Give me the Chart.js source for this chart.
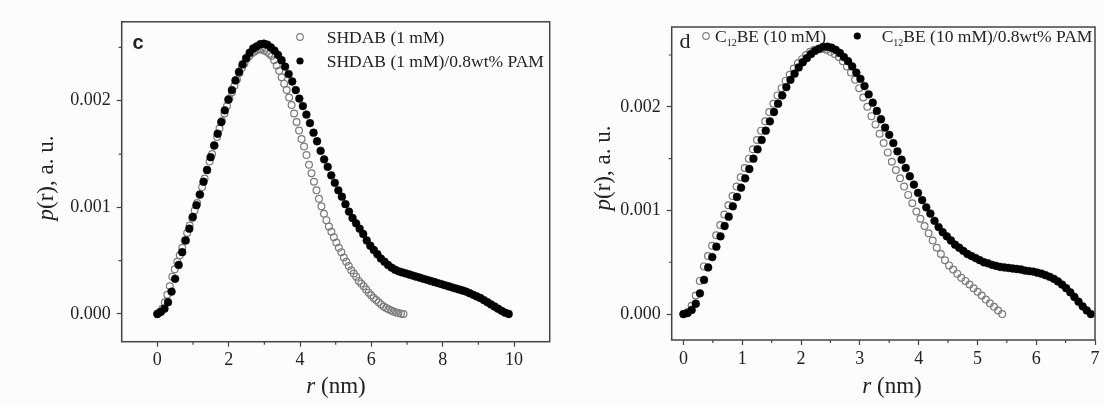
<!DOCTYPE html>
<html>
<head>
<meta charset="utf-8">
<script src="https://cdn.jsdelivr.net/npm/chart.js@4.4.0/dist/chart.umd.min.js"></script>
<style>
  html, body { margin: 0; padding: 0; background: #fcfcfc; }
  #wrap { position: relative; width: 1104px; height: 406px; overflow: hidden; }
  canvas { position: absolute; top: 0; }
</style>
</head>
<body>
<div id="wrap">
  <canvas id="panelC" width="560" height="406" style="left:0;width:560px;height:406px"></canvas>
  <canvas id="panelD" width="544" height="406" style="left:560px;width:544px;height:406px"></canvas>
</div>
<script>
// p(r) values are in units of 10^-3 a.u., sampled on an even r grid (nm)

// panel c
const shdabStep = 0.0697;
const shdab = [0,0.02,0.05,0.11,0.18,0.26,0.35,0.42,0.49,0.55,
  0.62,0.69,0.76,0.83,0.90,0.97,1.04,1.12,1.19,1.27,
  1.35,1.43,1.50,1.58,1.66,1.74,1.81,1.88,1.95,2.02,
  2.08,2.14,2.20,2.26,2.31,2.35,2.39,2.42,2.445,2.46,
  2.475,2.48,2.48,2.47,2.46,2.44,2.42,2.38,2.33,2.28,
  2.22,2.16,2.10,2.03,1.96,1.88,1.80,1.72,1.64,1.57,
  1.49,1.40,1.32,1.24,1.16,1.08,1.01,0.94,0.88,0.82,
  0.77,0.72,0.67,0.62,0.58,0.53,0.49,0.45,0.41,0.38,
  0.35,0.31,0.285,0.26,0.23,0.20,0.175,0.15,0.13,0.11,
  0.09,0.07,0.055,0.045,0.033,0.023,0.015,0.008,0.003,0];

const shdabPamStep = 0.0995;
const shdabPam = [0,0.02,0.05,0.11,0.21,0.33,0.46,0.58,0.69,0.80,
  0.91,1.02,1.12,1.24,1.35,1.47,1.58,1.69,1.80,1.91,
  2.01,2.10,2.19,2.27,2.34,2.40,2.45,2.49,2.51,2.53,
  2.535,2.525,2.50,2.47,2.43,2.38,2.32,2.25,2.18,2.10,
  2.02,1.95,1.87,1.79,1.70,1.62,1.53,1.45,1.38,1.30,
  1.23,1.16,1.10,1.03,0.96,0.90,0.85,0.80,0.75,0.69,
  0.64,0.60,0.56,0.52,0.49,0.46,0.435,0.415,0.40,0.39,
  0.38,0.37,0.36,0.35,0.34,0.33,0.32,0.31,0.30,0.29,
  0.28,0.27,0.26,0.25,0.24,0.23,0.22,0.21,0.195,0.18,
  0.165,0.15,0.13,0.11,0.09,0.07,0.05,0.03,0.012,0];

const xTicksC = [0, 2, 4, 6, 8, 10];
const xMinorC = [1, 3, 5, 7, 9];

// panel d
const c12beStep = 0.0695;
const c12be = [0,0.02,0.08,0.18,0.32,0.46,0.56,0.66,0.76,0.86,
  0.96,1.05,1.14,1.23,1.32,1.41,1.50,1.59,1.68,1.77,
  1.86,1.95,2.03,2.11,2.18,2.25,2.31,2.37,2.42,2.46,
  2.50,2.53,2.55,2.56,2.56,2.55,2.53,2.51,2.48,2.44,
  2.39,2.33,2.26,2.18,2.09,2.00,1.91,1.83,1.74,1.65,
  1.56,1.47,1.39,1.31,1.23,1.15,1.07,0.99,0.92,0.85,
  0.78,0.71,0.64,0.58,0.52,0.47,0.43,0.39,0.35,0.32,
  0.285,0.25,0.215,0.18,0.14,0.105,0.07,0.035,0];

const c12bePamStep = 0.07;
const c12bePam = [0,0.01,0.04,0.10,0.20,0.33,0.45,0.55,0.65,0.75,
  0.85,0.94,1.04,1.13,1.22,1.31,1.40,1.50,1.59,1.68,
  1.77,1.86,1.95,2.03,2.11,2.19,2.26,2.32,2.38,2.43,
  2.47,2.51,2.54,2.56,2.58,2.58,2.57,2.55,2.52,2.48,
  2.44,2.39,2.33,2.27,2.20,2.12,2.04,1.96,1.88,1.80,
  1.73,1.65,1.57,1.49,1.41,1.33,1.25,1.17,1.10,1.03,
  0.97,0.90,0.84,0.79,0.75,0.71,0.67,0.64,0.61,0.58,
  0.56,0.54,0.52,0.50,0.49,0.475,0.465,0.455,0.45,0.445,
  0.44,0.435,0.43,0.42,0.415,0.41,0.40,0.39,0.375,0.36,
  0.34,0.315,0.285,0.25,0.21,0.165,0.12,0.075,0.035,0];

const xTicksD = [0, 1, 2, 3, 4, 5, 6, 7];
const xMinorD = [0.5, 1.5, 2.5, 3.5, 4.5, 5.5, 6.5];

const yTicks = [0, 0.001, 0.002];
const yMinor = [0.0005, 0.0015, 0.0025];

const serif = "'Liberation Serif', 'Times New Roman', serif";
const ink = '#222';
const frame = '#444';

function toPoints(step, vals) {
    return vals.map((v, i) => ({ x: i * step, y: v / 1000 }));
}

// draw text made of runs with different fonts (italic, subscript)
function drawRuns(ctx, runs, x, y, align) {
    let total = 0;
    runs.forEach(r => { ctx.font = r.font; total += ctx.measureText(r.t).width; });
    let cx = align === 'center' ? x - total / 2 : x;
    ctx.textAlign = 'left';
    ctx.textBaseline = 'alphabetic';
    runs.forEach(r => {
        ctx.font = r.font;
        ctx.fillText(r.t, cx, y + (r.dy || 0));
        cx += ctx.measureText(r.t).width;
    });
}

function marker(ctx, x, y, filled) {
    ctx.beginPath();
    ctx.arc(x, y, filled ? 3.6 : 3.3, 0, Math.PI * 2);
    if (filled) { ctx.fillStyle = '#000'; ctx.fill(); }
    else { ctx.strokeStyle = '#808080'; ctx.lineWidth = 1.2; ctx.stroke(); }
}

function makePanel(id, p) {
    const deco = {
        id: 'deco',
        afterDraw(chart) {
            const ctx = chart.ctx;
            const a = chart.chartArea;
            const xs = chart.scales.x, ys = chart.scales.y;
            ctx.save();
            ctx.strokeStyle = frame;
            ctx.lineWidth = 1.5;
            ctx.strokeRect(a.left, a.top, a.right - a.left, a.bottom - a.top);

            ctx.lineWidth = 1.2;
            ctx.beginPath();
            p.xMinor.forEach(v => {
                const px = xs.getPixelForValue(v);
                ctx.moveTo(px, a.bottom); ctx.lineTo(px, a.bottom + 3);
            });
            yMinor.forEach(v => {
                const py = ys.getPixelForValue(v);
                ctx.moveTo(a.left, py); ctx.lineTo(a.left - 3, py);
            });
            ctx.stroke();

            ctx.fillStyle = ink;
            // panel letter
            ctx.font = p.letterFont;
            ctx.textAlign = 'center';
            ctx.textBaseline = 'middle';
            ctx.fillText(p.letter, p.letterPos[0], p.letterPos[1]);

            // legend
            p.legend.forEach(item => {
                marker(ctx, item.mx, item.my, item.filled);
                ctx.fillStyle = ink;
                drawRuns(ctx, item.runs, item.tx, item.my + 6, 'left');
            });

            // axis titles
            ctx.fillStyle = ink;
            drawRuns(ctx, [
                { t: 'r', font: 'italic 23px ' + serif },
                { t: ' (nm)', font: '23px ' + serif }
            ], p.xTitle[0], p.xTitle[1] + 8, 'center');

            ctx.translate(p.yTitle[0], p.yTitle[1]);
            ctx.rotate(-Math.PI / 2);
            drawRuns(ctx, [
                { t: 'p', font: 'italic 23px ' + serif },
                { t: '(r), a. u.', font: '23px ' + serif }
            ], 0, 8, 'center');
            ctx.restore();
        }
    };

    return new Chart(document.getElementById(id), {
        type: 'scatter',
        data: {
            datasets: [
                {
                    data: p.open, order: 1, pointStyle: 'circle', pointRadius: 3.4,
                    backgroundColor: 'rgba(0,0,0,0)', borderColor: '#7a7a7a', borderWidth: 1.2
                },
                {
                    data: p.filled, order: 0, pointStyle: 'circle', pointRadius: 3.9,
                    backgroundColor: '#000', borderColor: '#000', borderWidth: 0.5
                }
            ]
        },
        options: {
            responsive: false,
            animation: false,
            devicePixelRatio: 1,
            events: [],
            layout: { padding: { top: p.top, right: p.padRight, left: 0, bottom: 0 } },
            plugins: { legend: { display: false }, tooltip: { enabled: false } },
            scales: {
                x: {
                    type: 'linear', min: p.xMin, max: p.xMax,
                    afterBuildTicks: s => { s.ticks = p.xTicks.map(v => ({ value: v })); },
                    afterFit: s => { s.height = 406 - p.bottom; },
                    ticks: { color: ink, padding: 3, font: { family: serif, size: 18 } },
                    grid: { drawOnChartArea: false, drawTicks: true, tickLength: 5, tickColor: frame, tickWidth: 1.2 },
                    border: { display: false }
                },
                y: {
                    type: 'linear', min: p.yMin, max: p.yMax,
                    afterBuildTicks: s => { s.ticks = yTicks.map(v => ({ value: v })); },
                    afterFit: s => { s.width = p.left; },
                    ticks: { color: ink, padding: 6, font: { family: serif, size: 18 }, callback: v => v.toFixed(3) },
                    grid: { drawOnChartArea: false, drawTicks: true, tickLength: 5, tickColor: frame, tickWidth: 1.2 },
                    border: { display: false }
                }
            }
        },
        plugins: [deco]
    });
}

makePanel('panelC', {
    open: toPoints(shdabStep, shdab),
    filled: toPoints(shdabPamStep, shdabPam),
    xMin: -1, xMax: 11, yMin: -0.00026, yMax: 0.00274,
    xTicks: xTicksC, xMinor: xMinorC,
    left: 121.7, top: 21.8, padRight: 10.3, bottom: 341.7,
    letter: 'c', letterFont: "bold 20px 'Liberation Sans', Arial, sans-serif", letterPos: [138, 43],
    legend: [
        { mx: 300, my: 37, filled: false, tx: 326.7, runs: [{ t: 'SHDAB (1 mM)', font: '17.5px ' + serif }] },
        { mx: 300, my: 61, filled: true, tx: 326.7, runs: [{ t: 'SHDAB (1 mM)/0.8wt% PAM', font: '17.5px ' + serif }] }
    ],
    xTitle: [336, 385], yTitle: [45, 178]
});

makePanel('panelD', {
    open: toPoints(c12beStep, c12be),
    filled: toPoints(c12bePamStep, c12bePam),
    xMin: -0.2, xMax: 7, yMin: -0.00025, yMax: 0.00277,
    xTicks: xTicksD, xMinor: xMinorD,
    left: 111.7, top: 27, padRight: 9, bottom: 340,
    letter: 'd', letterFont: '22px ' + serif, letterPos: [125, 42],
    legend: [
        { mx: 146, my: 36, filled: false, tx: 155, runs: [
            { t: 'C', font: '17.5px ' + serif },
            { t: '12', font: '10px ' + serif, dy: 4 },
            { t: 'BE (10 mM)', font: '17.5px ' + serif }
        ] },
        { mx: 297.3, my: 36, filled: true, tx: 321.7, runs: [
            { t: 'C', font: '17.5px ' + serif },
            { t: '12', font: '10px ' + serif, dy: 4 },
            { t: 'BE (10 mM)/0.8wt% PAM', font: '17.5px ' + serif }
        ] }
    ],
    xTitle: [332, 385], yTitle: [41.7, 168]
});
</script>
</body>
</html>
